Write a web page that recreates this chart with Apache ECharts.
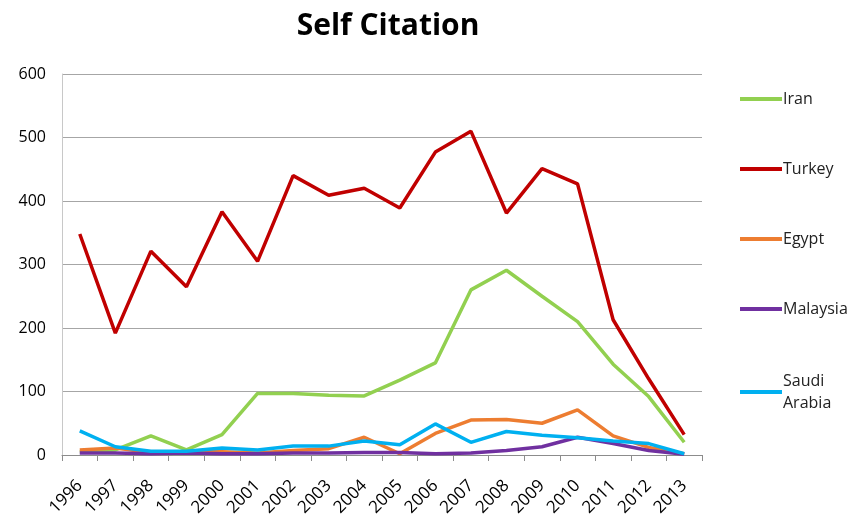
<!DOCTYPE html>
<html>
<head>
<meta charset="utf-8">
<script src="https://cdn.jsdelivr.net/npm/echarts@6/dist/echarts.min.js"></script>
<style>
  html, body { margin: 0; padding: 0; background: #fff; }
  #chart { width: 856px; height: 520px; }
</style>
</head>
<body>
<div id="chart"></div>
<script>
// 年份
var years = ["1996", "1997", "1998", "1999", "2000", "2001", "2002", "2003", "2004",
  "2005", "2006", "2007", "2008", "2009", "2010", "2011", "2012", "2013"];
var iran = [5, 8, 30, 8, 32, 97, 97, 94, 93, 118, 145, 260, 291, 250, 210, 143, 92, 20];
var turkey = [348, 192, 321, 265, 383, 305, 440, 409, 420, 389, 477, 510, 381, 451, 427, 213, 120, 32];
var egypt = [8, 11, 4, 5, 5, 3, 7, 10, 28, 2, 34, 55, 56, 50, 71, 30, 12, 2];
var malaysia = [3, 3, 2, 3, 2, 2, 3, 3, 4, 4, 2, 3, 7, 13, 28, 18, 7, 1];
var saudi = [38, 13, 6, 6, 11, 8, 14, 14, 22, 16, 49, 20, 37, 31, 27, 22, 18, 2];
var yTicks = [0, 100, 200, 300, 400, 500, 600];

var names = ["Iran", "Turkey", "Egypt", "Malaysia", "Saudi Arabia"];
var values = [iran, turkey, egypt, malaysia, saudi];
var colorList = ["#92D050", "#C00000", "#ED7D31", "#7030A0", "#00B0F0"];

var seriesData = [];
for (var i = 0; i < names.length; i++) {
  seriesData.push({
    name: names[i],
    type: "line",
    symbol: "none",
    data: values[i],
    lineStyle: { width: 3.5, color: colorList[i] },
    itemStyle: { color: colorList[i] },
  });
}

// 图例公共样式
var legendBase = {
  orient: "vertical",
  left: 735,
  itemWidth: 42,
  itemHeight: 4,
  icon: "rect",
  textStyle: { fontSize: 16, color: "#222", padding: [0, 0, 0, -4], lineHeight: 22 },
};

var myChart = echarts.init(document.getElementById("chart"));
myChart.setOption({
  animation: false,
  textStyle: { fontFamily: "Open Sans, sans-serif" },
  title: {
    text: "Self Citation",
    left: 383,
    top: 6,
    textAlign: "center",
    textStyle: { fontSize: 30, fontWeight: "bold", color: "#000" },
  },
  legend: [
    Object.assign({}, legendBase, {
      data: names.slice(0, 4),
      top: 83,
      itemGap: 48,
    }),
    Object.assign({}, legendBase, {
      data: [names[4]],
      top: 354,
      formatter: function (name) {
        return name.replace(" ", "\n");
      },
      textStyle: { fontSize: 16, color: "#222", padding: [22, 0, 0, -4], lineHeight: 22 },
    }),
  ],
  grid: { left: 62, right: 154, top: 74, bottom: 65 },
  xAxis: {
    type: "category",
    data: years,
    boundaryGap: true,
    axisLine: { lineStyle: { color: "#8c8c8c", width: 1 } },
    axisTick: { show: true, length: 6, lineStyle: { color: "#8c8c8c" } },
    axisLabel: { rotate: 45, fontSize: 17, color: "#000", margin: 28, interval: 0 },
  },
  yAxis: {
    type: "value",
    min: yTicks[0],
    max: yTicks[yTicks.length - 1],
    interval: 100,
    axisLine: { show: true, lineStyle: { color: "#c8c8c8" } },
    axisTick: { show: false },
    axisLabel: { fontSize: 16, color: "#000", margin: 16 },
    splitLine: { lineStyle: { color: "#a6a6a6", width: 1 } },
  },
  series: seriesData,
});
</script>
</body>
</html>
